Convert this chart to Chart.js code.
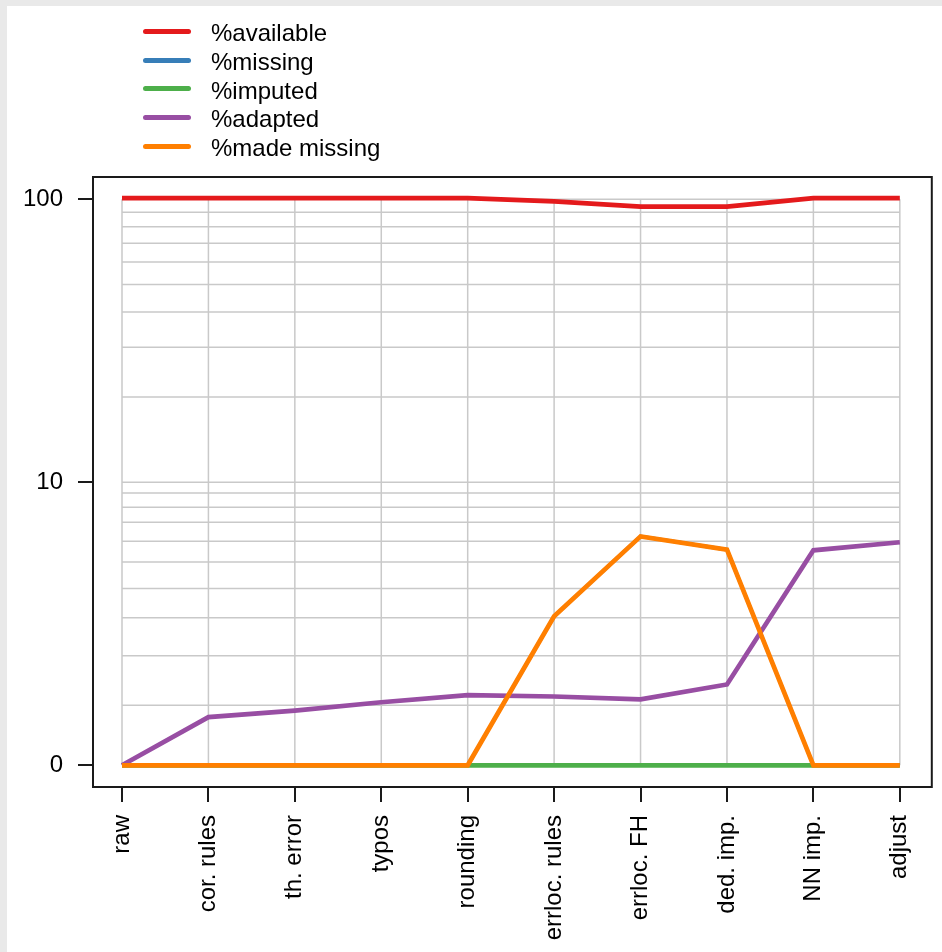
<!DOCTYPE html>
<html>
<head>
<meta charset="utf-8">
<script src="https://cdn.jsdelivr.net/npm/chart.js@4/dist/chart.umd.min.js"></script>
<style>
    html, body { margin: 0; padding: 0; background: #e9e9e9; }
    #panel { position: absolute; left: 7px; top: 6px; width: 935px; height: 946px; background: #ffffff; overflow: hidden; }
    #chartSteps { position: absolute; left: 0; top: 0; }
    #legend { position: absolute; left: 136px; top: 11px; font-family: 'Liberation Sans', Arial, sans-serif; font-size: 24px; color: #000; }
    .legend-row { display: flex; align-items: center; height: 28.7px; }
    .legend-line { width: 48px; height: 5px; border-radius: 2.5px; margin-right: 20px; }
    .legend-text { padding-top: 4px; }
</style>
</head>
<body>
<div id="panel">
    <canvas id="chartSteps" width="935" height="946"></canvas>
    <div id="legend"></div>
</div>
<script>
const categories = ['raw', 'cor. rules', 'th. error', 'typos', 'rounding', 'errloc. rules', 'errloc. FH', 'ded. imp.', 'NN imp.', 'adjust'];

// percentages per processing step
const available   = [100, 100, 100, 100, 100, 97.3, 93.2, 93.2, 100, 100];
const missing     = [0, 0, 0, 0, 0, 2.36, 5.44, 4.78, 0, 0];
const imputed     = [0, 0, 0, 0, 0, 0, 0, 0, 0, 0];
const adapted     = [0, 0.48, 0.56, 0.67, 0.77, 0.75, 0.71, 0.93, 4.75, 5.14];
const madeMissing = [0, 0, 0, 0, 0, 2.36, 5.44, 4.78, 0, 0];

const seriesLabels = ['%available', '%missing', '%imputed', '%adapted', '%made missing'];
const seriesColors = ['#e41a1c', '#377eb8', '#4daf4a', '#984ea3', '#ff7f00'];
const seriesWidths = [4.7, 3.5, 4.7, 4.7, 4.7];
const seriesData = [available, missing, imputed, adapted, madeMissing];

// y axis is log(1 + x): labelled ticks and the light grid lines
const yTicks = [1, 10, 100];
const yTickLabels = ['0', '10', '100'];
const yGrid = [1, 1.63, 2.44, 3.32, 4.21, 5.23, 6.19, 7.22, 8.16, 9.17, 10, 20, 30, 40, 50, 60, 70, 80, 90, 100];

function renderLegend() {
    const el = document.getElementById('legend');
    let html = '';
    seriesLabels.forEach((lbl, i) => {
        html += `<div class="legend-row"><span class="legend-line" style="background:${seriesColors[i]}"></span><span class="legend-text">${lbl}</span></div>`;
    });
    el.innerHTML = html;
}

// grid limited to the data range, plus the frame around the plot
const stepGrid = {
    id: 'stepGrid',
    beforeDatasetsDraw(chart) {
        const { ctx, scales: { x, y } } = chart;
        const x0 = x.getPixelForValue(0), x1 = x.getPixelForValue(categories.length - 1);
        const yLo = y.getPixelForValue(yGrid[0]), yHi = y.getPixelForValue(yGrid[yGrid.length - 1]);
        ctx.save();
        ctx.strokeStyle = '#c9c9c9';
        ctx.lineWidth = 1.5;
        ctx.beginPath();
        yGrid.forEach(v => {
            const py = y.getPixelForValue(v);
            ctx.moveTo(x0, py);
            ctx.lineTo(x1, py);
        });
        categories.forEach((c, i) => {
            const px = x.getPixelForValue(i);
            ctx.moveTo(px, yLo);
            ctx.lineTo(px, yHi);
        });
        ctx.stroke();
        ctx.restore();
    },
    afterDraw(chart) {
        const { ctx, chartArea: a } = chart;
        ctx.save();
        ctx.strokeStyle = '#1a1a1a';
        ctx.lineWidth = 2;
        ctx.strokeRect(a.left, a.top, a.right - a.left, a.bottom - a.top);
        ctx.restore();
    }
};

const font = { family: "'Liberation Sans', Arial, sans-serif", size: 24 };

new Chart(document.getElementById('chartSteps'), {
    type: 'line',
    data: {
        datasets: seriesData.map((vals, i) => ({
            label: seriesLabels[i],
            data: vals.map((v, j) => ({ x: j, y: v + 1 })),
            borderColor: seriesColors[i],
            backgroundColor: seriesColors[i],
            borderWidth: seriesWidths[i],
            pointRadius: 0,
            tension: 0,
            fill: false,
            order: seriesData.length - i
        }))
    },
    options: {
        responsive: false,
        animation: false,
        devicePixelRatio: 1,
        layout: { padding: { top: 171, right: 10, left: 0, bottom: 0 } },
        plugins: {
            legend: { display: false },
            tooltip: { enabled: false }
        },
        scales: {
            x: {
                type: 'linear',
                min: -0.3355,
                max: 9.37,
                afterBuildTicks: s => { s.ticks = categories.map((c, i) => ({ value: i })); },
                afterFit: s => { s.height = 165; },
                border: { display: false },
                grid: { drawOnChartArea: false, drawTicks: true, tickLength: 15, tickWidth: 2, tickColor: '#1a1a1a', lineWidth: 2 },
                ticks: {
                    autoSkip: false,
                    maxRotation: 90,
                    minRotation: 90,
                    padding: 13,
                    color: '#000',
                    font,
                    callback: v => categories[v]
                }
            },
            y: {
                type: 'logarithmic',
                min: 0.838,
                max: 119.9,
                afterBuildTicks: s => { s.ticks = yTicks.map(v => ({ value: v })); },
                afterFit: s => { s.width = 86; },
                border: { display: false },
                grid: { drawOnChartArea: false, drawTicks: true, tickLength: 15, tickWidth: 2, tickColor: '#1a1a1a', lineWidth: 2 },
                ticks: {
                    padding: 15,
                    color: '#000',
                    font,
                    callback: v => yTickLabels[yTicks.indexOf(v)]
                }
            }
        }
    },
    plugins: [stepGrid]
});

renderLegend();
</script>
</body>
</html>
